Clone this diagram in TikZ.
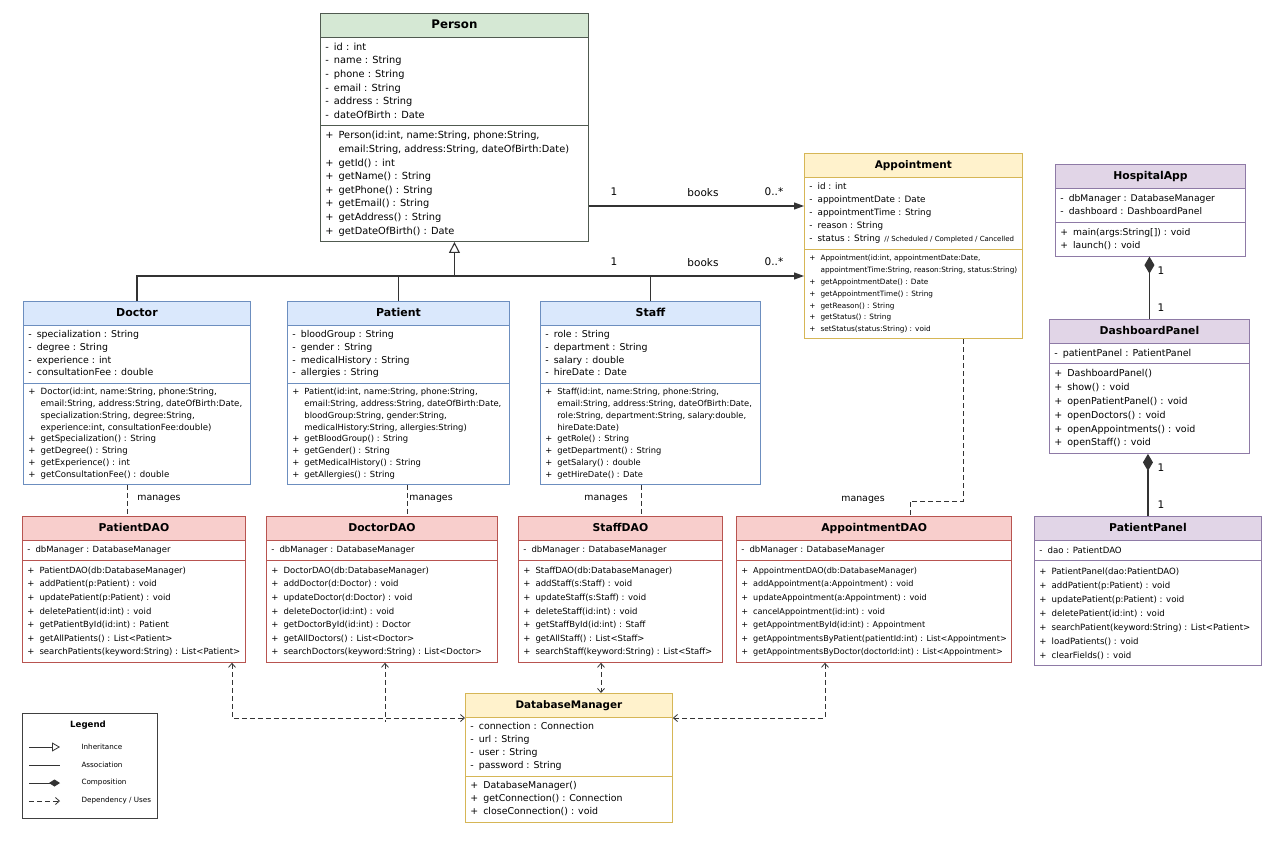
\documentclass[tikz,border=0pt]{standalone}
\usepackage{fontspec}
\setmainfont{DejaVu Sans}
\usetikzlibrary{shapes.multipart,arrows.meta}

\definecolor{grnfill}{HTML}{D5E8D4}
\definecolor{grndraw}{HTML}{505A50}
\definecolor{ylwfill}{HTML}{FFF2CC}
\definecolor{ylwdraw}{HTML}{D6B656}
\definecolor{prpfill}{HTML}{E1D5E7}
\definecolor{prpdraw}{HTML}{8E7AA6}
\definecolor{blufill}{HTML}{DAE8FC}
\definecolor{bludraw}{HTML}{6C8EBF}
\definecolor{redfill}{HTML}{F8CECC}
\definecolor{reddraw}{HTML}{B85450}

\newcommand\hd[2][10.8]{\rule[-5pt]{0pt}{17pt}{\fontsize{#1}{14}\selectfont\bfseries #2}}
\newcommand\mem[3]{{\fontsize{#1}{#2}\selectfont\begin{tabular}{@{}c@{\hspace{5pt}}l@{}}#3\end{tabular}}}

\begin{document}
\begin{tikzpicture}[x=1pt,y=-1pt,
  cls/.style 2 args={rectangle split, rectangle split parts=3,
    rectangle split part align={center,left,left},
    rectangle split part fill={#1,white,white},
    draw=#2, line width=0.9pt, inner xsep=5pt, inner ysep=3pt, anchor=north west},
  lnk/.style={draw=black!80, line width=1.1pt},
  assoc/.style={lnk, -{Triangle[length=10pt,width=7pt]}},
  inh/.style={lnk, -{Triangle[open,length=11pt,width=11pt,fill=white]}},
  comp/.style={lnk, -{Diamond[length=17pt,width=10pt]}},
  mng/.style={lnk, line width=0.8pt, dash pattern=on 5pt off 3pt},
  dep/.style={mng, {Straight Barb[length=4pt,width=7pt]}-{Straight Barb[length=4pt,width=7pt]}},
  depo/.style={mng, {Straight Barb[length=4pt,width=7pt]}-},
  lbl/.style={font=\fontsize{10.5}{12}\selectfont},
  note/.style={font=\fontsize{9.4}{10}\selectfont}]

\fill[white] (0,0) rectangle (1280,853);
\useasboundingbox (0,0) rectangle (1280,853);

\node[cls={grnfill}{grndraw}, minimum width=268] (person) at (320,13) {\hd[11.8]{Person}
 \nodepart{two}\mem{9.8}{13.6}{- & id : int\\ - & name : String\\ - & phone : String\\ - & email : String\\ - & address : String\\ - & dateOfBirth : Date}
 \nodepart{three}\mem{9.8}{13.6}{+ & Person(id:int, name:String, phone:String,\\ & email:String, address:String, dateOfBirth:Date)\\
   + & getId() : int\\ + & getName() : String\\ + & getPhone() : String\\ + & getEmail() : String\\ + & getAddress() : String\\ + & getDateOfBirth() : Date}};

\node[cls={ylwfill}{ylwdraw}, minimum width=217] (appt) at (804,153) {\hd[10.5]{Appointment}
 \nodepart{two}\mem{8.8}{13}{- & id : int\\ - & appointmentDate : Date\\ - & appointmentTime : String\\ - & reason : String\\
   - & status : String\hspace{4pt}{\fontsize{7}{8}\selectfont // Scheduled / Completed / Cancelled}}
 \nodepart{three}\mem{7.3}{11.8}{+ & Appointment(id:int, appointmentDate:Date,\\ & appointmentTime:String, reason:String, status:String)\\
   + & getAppointmentDate() : Date\\ + & getAppointmentTime() : String\\ + & getReason() : String\\ + & getStatus() : String\\ + & setStatus(status:String) : void}};

\node[cls={prpfill}{prpdraw}, minimum width=190] (happ) at (1055,164) {\hd{HospitalApp}
 \nodepart{two}\mem{9.2}{13.5}{- & dbManager : DatabaseManager\\ - & dashboard : DashboardPanel}
 \nodepart{three}\mem{9.2}{13.5}{+ & main(args:String[]) : void\\ + & launch() : void}};

\node[cls={prpfill}{prpdraw}, minimum width=200] (dash) at (1049,319) {\hd{DashboardPanel}
 \nodepart{two}\mem{9.5}{13.5}{- & patientPanel : PatientPanel}
 \nodepart{three}\mem{9.5}{13.8}{+ & DashboardPanel()\\ + & show() : void\\ + & openPatientPanel() : void\\ + & openDoctors() : void\\ + & openAppointments() : void\\ + & openStaff() : void}};

\node[cls={prpfill}{prpdraw}, minimum width=227] (ppanel) at (1034,516) {\hd{PatientPanel}
 \nodepart{two}\mem{8.6}{13.5}{- & dao : PatientDAO}
 \nodepart{three}\mem{8.6}{14}{+ & PatientPanel(dao:PatientDAO)\\ + & addPatient(p:Patient) : void\\ + & updatePatient(p:Patient) : void\\ + & deletePatient(id:int) : void\\
   + & searchPatient(keyword:String) : List<Patient>\\ + & loadPatients() : void\\ + & clearFields() : void}};

\node[cls={blufill}{bludraw}, minimum width=227] (doctor) at (23,301) {\hd[11]{Doctor}
 \nodepart{two}\mem{9.4}{12.7}{- & specialization : String\\ - & degree : String\\ - & experience : int\\ - & consultationFee : double}
 \nodepart{three}\mem{8.6}{11.8}{+ & Doctor(id:int, name:String, phone:String,\\ & email:String, address:String, dateOfBirth:Date,\\ & specialization:String, degree:String,\\ & experience:int, consultationFee:double)\\
   + & getSpecialization() : String\\ + & getDegree() : String\\ + & getExperience() : int\\ + & getConsultationFee() : double}};

\node[cls={blufill}{bludraw}, minimum width=222] (patient) at (287,301) {\hd[11]{Patient}
 \nodepart{two}\mem{9.4}{12.7}{- & bloodGroup : String\\ - & gender : String\\ - & medicalHistory : String\\ - & allergies : String}
 \nodepart{three}\mem{8.4}{11.8}{+ & Patient(id:int, name:String, phone:String,\\ & email:String, address:String, dateOfBirth:Date,\\ & bloodGroup:String, gender:String,\\ & medicalHistory:String, allergies:String)\\
   + & getBloodGroup() : String\\ + & getGender() : String\\ + & getMedicalHistory() : String\\ + & getAllergies() : String}};

\node[cls={blufill}{bludraw}, minimum width=220] (staff) at (540,301) {\hd[11]{Staff}
 \nodepart{two}\mem{9.4}{12.7}{- & role : String\\ - & department : String\\ - & salary : double\\ - & hireDate : Date}
 \nodepart{three}\mem{8.3}{11.8}{+ & Staff(id:int, name:String, phone:String,\\ & email:String, address:String, dateOfBirth:Date,\\ & role:String, department:String, salary:double,\\ & hireDate:Date)\\
   + & getRole() : String\\ + & getDepartment() : String\\ + & getSalary() : double\\ + & getHireDate() : Date}};

\node[cls={redfill}{reddraw}, minimum width=223] (pdao) at (22,516) {\hd{PatientDAO}
 \nodepart{two}\mem{8.5}{13}{- & dbManager : DatabaseManager}
 \nodepart{three}\mem{8.5}{13.6}{+ & PatientDAO(db:DatabaseManager)\\ + & addPatient(p:Patient) : void\\ + & updatePatient(p:Patient) : void\\ + & deletePatient(id:int) : void\\
   + & getPatientById(id:int) : Patient\\ + & getAllPatients() : List<Patient>\\ + & searchPatients(keyword:String) : List<Patient>}};

\node[cls={redfill}{reddraw}, minimum width=231] (ddao) at (266,516) {\hd{DoctorDAO}
 \nodepart{two}\mem{8.5}{13}{- & dbManager : DatabaseManager}
 \nodepart{three}\mem{8.5}{13.6}{+ & DoctorDAO(db:DatabaseManager)\\ + & addDoctor(d:Doctor) : void\\ + & updateDoctor(d:Doctor) : void\\ + & deleteDoctor(id:int) : void\\
   + & getDoctorById(id:int) : Doctor\\ + & getAllDoctors() : List<Doctor>\\ + & searchDoctors(keyword:String) : List<Doctor>}};

\node[cls={redfill}{reddraw}, minimum width=204] (sdao) at (518,516) {\hd{StaffDAO}
 \nodepart{two}\mem{8.5}{13}{- & dbManager : DatabaseManager}
 \nodepart{three}\mem{8.5}{13.6}{+ & StaffDAO(db:DatabaseManager)\\ + & addStaff(s:Staff) : void\\ + & updateStaff(s:Staff) : void\\ + & deleteStaff(id:int) : void\\
   + & getStaffById(id:int) : Staff\\ + & getAllStaff() : List<Staff>\\ + & searchStaff(keyword:String) : List<Staff>}};

\node[cls={redfill}{reddraw}, minimum width=274] (adao) at (736,516) {\hd{AppointmentDAO}
 \nodepart{two}\mem{8.5}{13}{- & dbManager : DatabaseManager}
 \nodepart{three}\mem{8.1}{13.6}{+ & AppointmentDAO(db:DatabaseManager)\\ + & addAppointment(a:Appointment) : void\\ + & updateAppointment(a:Appointment) : void\\ + & cancelAppointment(id:int) : void\\
   + & getAppointmentById(id:int) : Appointment\\ + & getAppointmentsByPatient(patientId:int) : List<Appointment>\\ + & getAppointmentsByDoctor(doctorId:int) : List<Appointment>}};

\node[cls={ylwfill}{ylwdraw}, minimum width=207] (dbm) at (465,693) {\hd[10.4]{DatabaseManager}
 \nodepart{two}\mem{9.4}{13}{- & connection : Connection\\ - & url : String\\ - & user : String\\ - & password : String}
 \nodepart{three}\mem{9.4}{13}{+ & DatabaseManager()\\ + & getConnection() : Connection\\ + & closeConnection() : void}};

% inheritance + books
\coordinate (bus) at (person.south |- 0,276);
\draw[assoc] (person.east |- 0,206) -- (appt.west |- 0,206);
\draw[assoc] (doctor.north) |- (appt.west |- bus);
\draw[lnk] (patient.north) -- (patient.north |- bus);
\draw[lnk] (staff.north) -- (staff.north |- bus);
\draw[inh] (bus) -- (person.south);
\node[lbl] (one1) at (614,192) {1};
\node[lbl] (bk1) at (703,193) {books};
\node[lbl] (many1) at (774,192) {0..*};
\node[lbl] (one2) at (614,262) {1};
\node[lbl] (bk2) at (703,263) {books};
\node[lbl] (many2) at (774,262) {0..*};

% composition
\draw[comp] (dash.north) -- (dash.north |- happ.south);
\draw[comp] (ppanel.north) -- (ppanel.north |- dash.south);
\node[lbl] (c1) at (1161,271) {1};
\node[lbl] (c2) at (1161,308) {1};
\node[lbl] (c3) at (1161,468) {1};
\node[lbl] (c4) at (1161,505) {1};

% manages
\draw[mng] (doctor.south -| 127,0) -- (pdao.north -| 127,0);
\draw[mng] (patient.south -| 407,0) -- (ddao.north -| 407,0);
\draw[mng] (staff.south -| 641,0) -- (sdao.north -| 641,0);
\draw[mng] (appt.south -| 963,0) -- ++(0,162) -| (adao.north -| 910,0);
\node[note] (mg1) at (159,499) {manages};
\node[note] (mg2) at (431,499) {manages};
\node[note] (mg3) at (606,499) {manages};
\node[note] (mg4) at (863,500) {manages};

% uses database
\draw[dep] (pdao.south -| 232,0) |- (dbm.west |- 0,718);
\draw[depo] (ddao.south -| 385,0) -- ++(0,59);
\draw[dep] (sdao.south -| 601,0) -- (dbm.north -| 601,0);
\draw[dep] (adao.south -| 825,0) |- (dbm.east |- 0,718);

% legend
\node[draw=black!75, line width=0.8pt, minimum width=135, minimum height=105, anchor=north west] (legend) at (22,713) {};
\node[font=\fontsize{8.6}{9}\selectfont\bfseries] (legtitle) at (88,725) {Legend};
\foreach \st/\txt [count=\i] in {inh/Inheritance, lnk/Association, comp/Composition, depo/{Dependency / Uses}}{
  \node[anchor=west, font=\fontsize{7.2}{8}\selectfont] (leg\i) at (78,729+18*\i) {\txt};
}
\draw[inh, line width=0.8pt, -{Triangle[open,length=8pt,width=9pt,fill=white]}] ([xshift=-49]leg1.west) -- ([xshift=-18]leg1.west);
\draw[lnk, line width=0.8pt] ([xshift=-49]leg2.west) -- ([xshift=-18]leg2.west);
\draw[lnk, line width=0.8pt, -{Diamond[length=11pt,width=7pt]}] ([xshift=-49]leg3.west) -- ([xshift=-18]leg3.west);
\draw[mng, -{Straight Barb[length=4pt,width=7pt]}] ([xshift=-49]leg4.west) -- ([xshift=-18]leg4.west);
\end{tikzpicture}
\end{document}
